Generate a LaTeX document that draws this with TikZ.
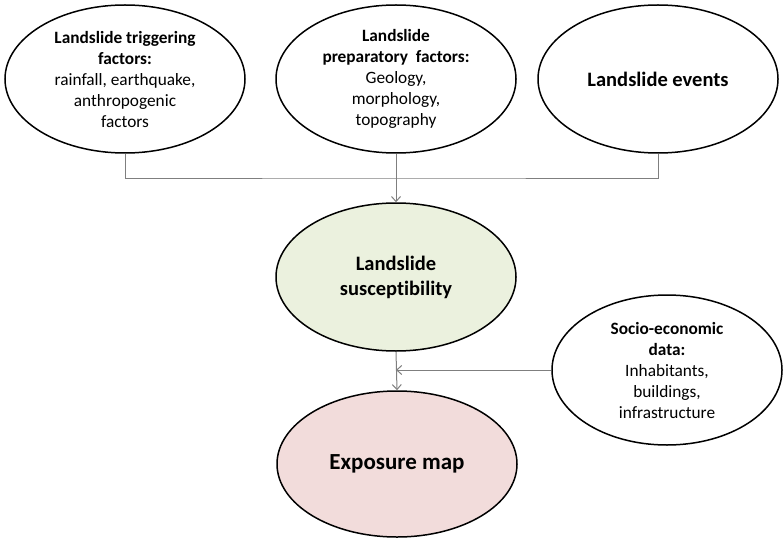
\documentclass[tikz,border=0pt]{standalone}
\usepackage{fontspec}
\setmainfont{Carlito}[Ligatures={NoCommon}]
\usetikzlibrary{shapes.geometric, arrows.meta}
\definecolor{suscfill}{HTML}{EBF1DE}
\definecolor{expofill}{HTML}{F2DCDB}
\definecolor{linkgray}{HTML}{7F7F7F}
\begin{document}
\begin{tikzpicture}[x=1pt,y=-1pt,
  oval/.style={ellipse, draw=black, line width=1.5pt, minimum width=240pt,
    minimum height=148pt, inner sep=0pt, align=center,
    font=\fontsize{17.3}{21}\selectfont},
  link/.style={draw=linkgray, line width=1pt},
  arrowlink/.style={link, -{Straight Barb[length=5pt,width=9pt]}}]
\path[use as bounding box] (0,0) rectangle (783,540);

% input factors
\node[oval] (trig) at (125,79)
  {\textbf{Landslide triggering}\\\textbf{factors:}\\rainfall, earthquake,\\anthropogenic\\factors};
\node[oval] (prep) at (396,79)
  {\textbf{Landslide}\\\textbf{preparatory\ \ factors:}\\Geology,\\morphology,\\topography};
\node[oval, font=\fontsize{20.5}{24}\selectfont\bfseries] (evt) at (658,79) {Landslide events};

% results
\node[oval, fill=suscfill, font=\fontsize{20.5}{25}\selectfont\bfseries] (susc) at (396,277)
  {Landslide\\susceptibility};
\node[oval, minimum width=230pt, minimum height=150pt] (soc) at (667,370)
  {\textbf{Socio-economic}\\\textbf{data:}\\Inhabitants,\\buildings,\\infrastructure};
\node[oval, fill=expofill, minimum height=146pt, font=\fontsize{23}{27}\selectfont\bfseries] (expo) at (397,464)
  {Exposure map};

% collecting bus
\coordinate (bus) at (396,178);
\draw[link] (trig.south) |- (bus) -| (evt.south);
\draw[arrowlink] (prep.south) -- (susc.north);

% exposure input
\coordinate (merge) at (susc.south |- soc.west);
\draw[arrowlink] (soc.west) -- (merge);
\draw[arrowlink] (susc.south) -- (expo.north);
\end{tikzpicture}
\end{document}
